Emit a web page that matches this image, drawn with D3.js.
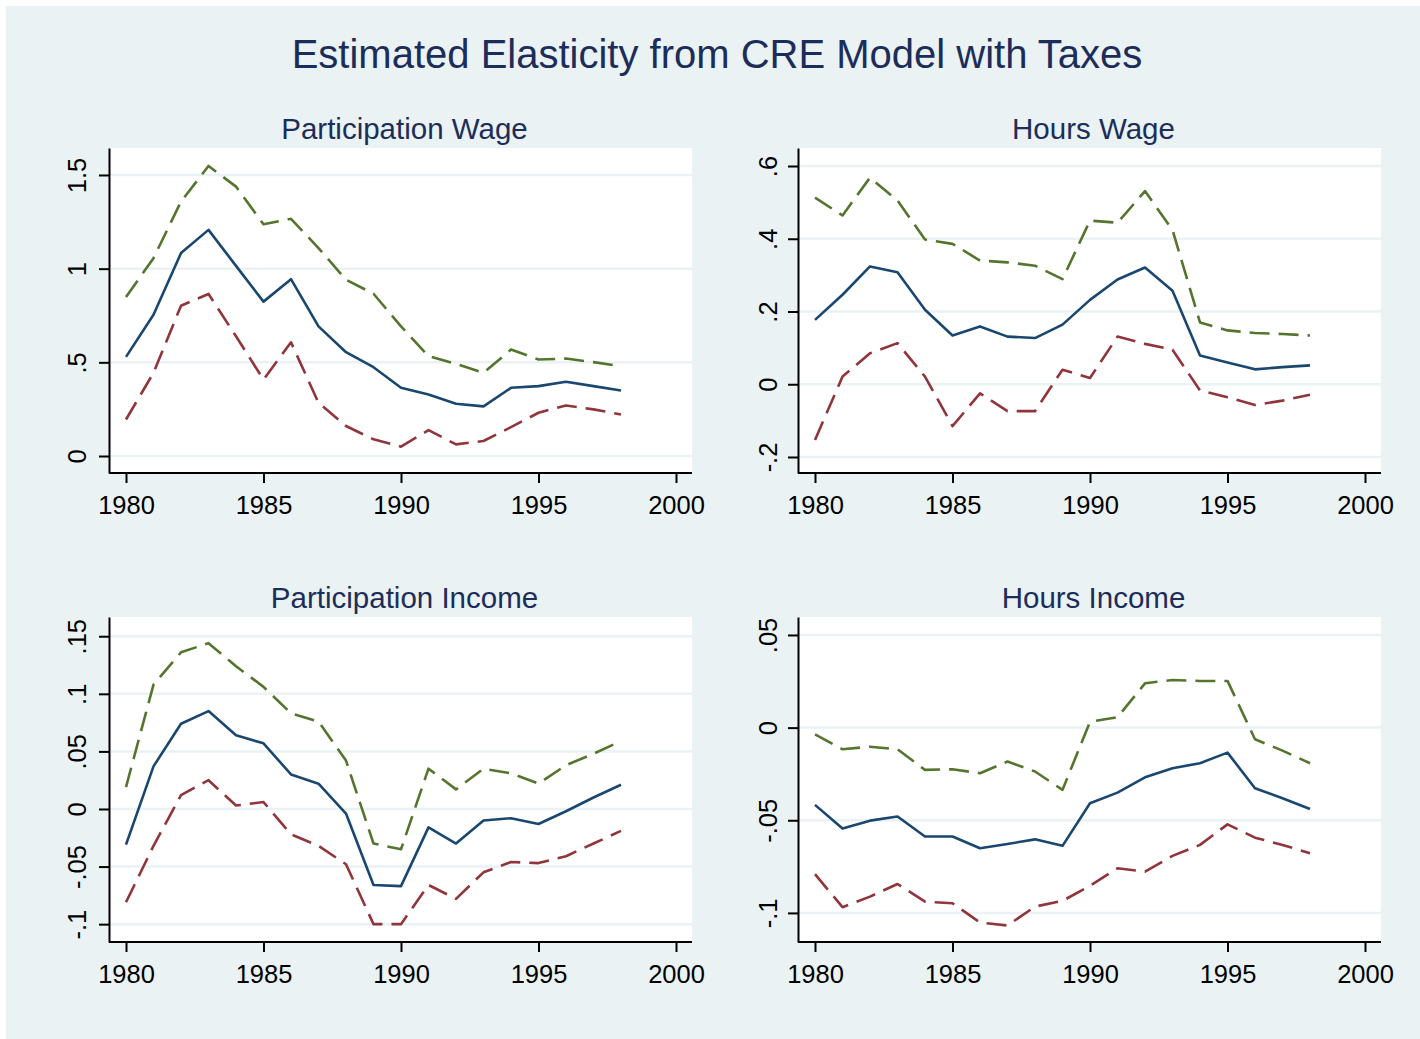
<!DOCTYPE html>
<html>
<head>
<meta charset="utf-8">
<script src="https://cdn.jsdelivr.net/npm/d3@7/dist/d3.min.js"></script>
<style>
body { margin: 0; background: #fff; }
svg { display: block; }
text { font-family: "Liberation Sans", Arial, sans-serif; }
</style>
</head>
<body>
<div id="chart"></div>
<script>

var years = [1980,1981,1982,1983,1984,1985,1986,1987,1988,1989,1990,1991,1992,1993,1994,1995,1996,1997,1998];
var xTicks = [1980,1985,1990,1995,2000];

// Participation Wage
var pwMean  = [0.529,0.754,1.083,1.207,1.015,0.824,0.944,0.692,0.554,0.474,0.364,0.328,0.279,0.265,0.364,0.373,0.396,0.373,0.350];
var pwUpper = [0.849,1.056,1.358,1.548,1.438,1.237,1.266,1.110,0.941,0.866,0.692,0.533,0.492,0.444,0.568,0.515,0.520,0.501,0.479];
var pwLower = [0.195,0.444,0.802,0.865,0.639,0.408,0.607,0.284,0.160,0.089,0.050,0.138,0.062,0.080,0.154,0.231,0.270,0.249,0.222];
var pwTicks = [0,0.5,1,1.5];
var pwLabels = ["0",".5","1","1.5"];

// Hours Wage
var hwMean  = [0.177,0.246,0.324,0.308,0.205,0.134,0.159,0.131,0.127,0.164,0.232,0.288,0.321,0.257,0.079,0.060,0.041,0.047,0.052];
var hwUpper = [0.513,0.464,0.568,0.505,0.398,0.386,0.340,0.335,0.326,0.289,0.450,0.444,0.531,0.424,0.170,0.148,0.141,0.138,0.134];
var hwLower = [-0.153,0.021,0.085,0.113,0.021,-0.115,-0.025,-0.074,-0.074,0.040,0.017,0.131,0.111,0.095,-0.017,-0.036,-0.057,-0.045,-0.029];
var hwTicks = [-0.2,0,0.2,0.4,0.6];
var hwLabels = ["-.2","0",".2",".4",".6"];

// Participation Income
var piMean  = [-0.031,0.037,0.074,0.085,0.064,0.057,0.030,0.022,-0.004,-0.066,-0.067,-0.016,-0.030,-0.010,-0.008,-0.013,-0.002,0.010,0.021];
var piUpper = [0.019,0.108,0.136,0.144,0.124,0.106,0.083,0.076,0.042,-0.030,-0.035,0.035,0.017,0.035,0.031,0.022,0.038,0.048,0.059];
var piLower = [-0.081,-0.032,0.012,0.025,0.003,0.006,-0.022,-0.032,-0.048,-0.100,-0.100,-0.066,-0.078,-0.055,-0.046,-0.047,-0.041,-0.030,-0.019];
var piTicks = [-0.1,-0.05,0,0.05,0.1,0.15];
var piLabels = ["-.1","-.05","0",".05",".1",".15"];

// Hours Income
var hiMean  = [-0.0417,-0.0545,-0.0502,-0.0480,-0.0588,-0.0588,-0.0651,-0.0628,-0.0603,-0.0638,-0.0408,-0.0351,-0.0268,-0.0219,-0.0192,-0.0135,-0.0327,-0.0381,-0.0439];
var hiUpper = [-0.0036,-0.0117,-0.0103,-0.0117,-0.0228,-0.0225,-0.0246,-0.0183,-0.0237,-0.0336,0.0032,0.0056,0.0239,0.0257,0.0252,0.0252,-0.0063,-0.0124,-0.0192];
var hiLower = [-0.0791,-0.0969,-0.0912,-0.0844,-0.0939,-0.0948,-0.1052,-0.1068,-0.0966,-0.0935,-0.0854,-0.0759,-0.0777,-0.0692,-0.0633,-0.0522,-0.0594,-0.0633,-0.0678];
var hiTicks = [-0.1,-0.05,0,0.05];
var hiLabels = ["-.1","-.05","0",".05"];

var W = 1420, H = 1039;
var bg = "#eaf2f3";
var navy = "#1a476f", maroon = "#90353b", green = "#55752f";
var titleColor = "#1c2d5a";

var svg = d3.select("#chart").append("svg")
	.attr("width", W)
	.attr("height", H);

svg.append("rect")
	.attr("x", 6).attr("y", 6)
	.attr("width", W - 6).attr("height", H - 6)
	.attr("fill", bg);

svg.append("text")
	.attr("x", 717).attr("y", 68)
	.attr("text-anchor", "middle")
	.attr("font-size", 40)
	.attr("fill", titleColor)
	.text("Estimated Elasticity from CRE Model with Taxes");

var panels = [
	{title: "Participation Wage",   x0: 109, x1: 692,  y0: 148, y1: 473, yDom: [-0.0907, 1.644],  ticks: pwTicks, labels: pwLabels, mean: pwMean, upper: pwUpper, lower: pwLower, lab: 23},
	{title: "Hours Wage",           x0: 798, x1: 1381, y0: 148, y1: 473, yDom: [-0.244, 0.6495], ticks: hwTicks, labels: hwLabels, mean: hwMean, upper: hwUpper, lower: hwLower, lab: 21},
	{title: "Participation Income", x0: 109, x1: 692,  y0: 617, y1: 942, yDom: [-0.1155, 0.1667], ticks: piTicks, labels: piLabels, mean: piMean, upper: piUpper, lower: piLower, lab: 23},
	{title: "Hours Income",         x0: 798, x1: 1381, y0: 617, y1: 942, yDom: [-0.1157, 0.0597], ticks: hiTicks, labels: hiLabels, mean: hiMean, upper: hiUpper, lower: hiLower, lab: 21}
];

panels.forEach(function (p) {
	var g = svg.append("g");

	var x = d3.scaleLinear().domain([1980, 2000]).range([p.x0 + 17, p.x1 - 16]);
	var y = d3.scaleLinear().domain(p.yDom).range([p.y1, p.y0]);

	g.append("text")
		.attr("x", (p.x0 + p.x1) / 2 + 4)
		.attr("y", p.y0 - 9)
		.attr("text-anchor", "middle")
		.attr("font-size", 29.5)
		.attr("fill", titleColor)
		.text(p.title);

	g.append("rect")
		.attr("x", p.x0).attr("y", p.y0)
		.attr("width", p.x1 - p.x0).attr("height", p.y1 - p.y0)
		.attr("fill", "#fff");

	// grid
	g.selectAll(".grid")
		.data(p.ticks)
		.enter()
		.append("line")
		.attr("x1", p.x0).attr("x2", p.x1)
		.attr("y1", function (d) { return y(d); })
		.attr("y2", function (d) { return y(d); })
		.attr("stroke", bg)
		.attr("stroke-width", 2.5);

	var line = d3.line()
		.x(function (d, i) { return x(years[i]); })
		.y(function (d) { return y(d); });

	var series = [
		{vals: p.upper, color: green, dash: "20,9"},
		{vals: p.lower, color: maroon, dash: "20,9"},
		{vals: p.mean, color: navy, dash: null}
	];

	series.forEach(function (s) {
		g.append("path")
			.attr("d", line(s.vals))
			.attr("fill", "none")
			.attr("stroke", s.color)
			.attr("stroke-width", 2.6)
			.attr("stroke-linejoin", "round")
			.attr("stroke-dasharray", s.dash);
	});

	// y axis
	var yAxis = g.append("g")
		.attr("transform", "translate(" + p.x0 + ",0)")
		.call(d3.axisLeft(y).tickValues(p.ticks).tickSize(10).tickSizeOuter(0)
			.tickFormat(function (d, i) { return p.labels[i]; }));
	yAxis.select(".domain").attr("stroke", "#000").attr("stroke-width", 2);
	yAxis.selectAll(".tick line").attr("stroke", "#000").attr("stroke-width", 2);
	yAxis.selectAll(".tick text")
		.attr("transform", "rotate(-90)")
		.attr("x", 0)
		.attr("y", -p.lab)
		.attr("dy", 0)
		.attr("text-anchor", "middle")
		.attr("font-size", 25.5)
		.attr("font-family", "Liberation Sans, Arial, sans-serif")
		.attr("fill", "#000");

	// x axis
	var xAxis = g.append("g")
		.attr("transform", "translate(0," + p.y1 + ")")
		.call(d3.axisBottom(x).tickValues(xTicks).tickSize(10).tickSizeOuter(0)
			.tickFormat(d3.format("d")));
	xAxis.select(".domain")
		.attr("d", "M" + p.x0 + ",0H" + p.x1)
		.attr("stroke", "#000").attr("stroke-width", 2);
	xAxis.selectAll(".tick line").attr("stroke", "#000").attr("stroke-width", 2);
	xAxis.selectAll(".tick text")
		.attr("y", 41)
		.attr("dy", 0)
		.attr("font-size", 25.5)
		.attr("font-family", "Liberation Sans, Arial, sans-serif")
		.attr("fill", "#000");
});

</script>
</body>
</html>
